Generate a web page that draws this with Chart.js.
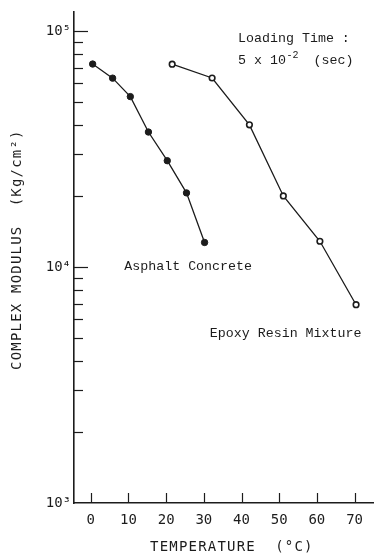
<!DOCTYPE html>
<html>
<head>
<meta charset="utf-8">
<script src="https://cdn.jsdelivr.net/npm/chart.js@4.4.1/dist/chart.umd.min.js"></script>
<style>
  html, body { margin: 0; padding: 0; background: #fff; }
  canvas { display: block; }
</style>
</head>
<body>
<canvas id="modulusChart" width="379" height="553"></canvas>
<script>
// complex modulus vs temperature, two mixtures
const ASPHALT_TEMP = [0.5, 5.8, 10.5, 15.3, 20.3, 25.4, 30.2];
const ASPHALT_MODULUS = [72400, 63100, 52700, 37300, 28200, 20600, 12700];
const EPOXY_TEMP = [21.6, 32.2, 42.1, 51.1, 60.8, 70.4];
const EPOXY_MODULUS = [72300, 63200, 40000, 20000, 12850, 6920];

const X_TICKS = [0, 10, 20, 30, 40, 50, 60, 70];
const Y_TICKS = [1000, 2000, 3000, 4000, 5000, 6000, 7000, 8000, 9000,
                 10000, 20000, 30000, 40000, 50000, 60000, 70000, 80000, 90000,
                 100000];
const Y_LABELS = { 1000: '10³', 10000: '10⁴', 100000: '10⁵' };

const INK = '#1c1c1c';
const SANS = '"DejaVu Sans Mono", monospace';
const TYPE = '"Liberation Mono", "Courier New", monospace';

function toPoints(xs, ys) {
  return xs.map((x, i) => ({ x, y: ys[i] }));
}

// inward ticks, axis titles and the typed notes
const axisExtras = {
  id: 'axisExtras',
  afterDraw(chart) {
    const ctx = chart.ctx;
    const xs = chart.scales.x, ys = chart.scales.y;
    const area = chart.chartArea;
    ctx.save();
    ctx.strokeStyle = INK;
    ctx.lineWidth = 1.2;
    Y_TICKS.forEach(v => {
      if (v === 1000) return;
      const py = Math.round(ys.getPixelForValue(v)) + 0.5;
      const len = Y_LABELS[v] ? 14 : 9;
      ctx.beginPath();
      ctx.moveTo(area.left, py);
      ctx.lineTo(area.left + len, py);
      ctx.stroke();
    });
    X_TICKS.forEach(v => {
      const px = Math.round(xs.getPixelForValue(v)) + 0.5;
      ctx.beginPath();
      ctx.moveTo(px, area.bottom);
      ctx.lineTo(px, area.bottom - 10);
      ctx.stroke();
    });

    ctx.fillStyle = INK;
    ctx.textBaseline = 'middle';
    ctx.textAlign = 'left';

    // axis titles
    ctx.font = '14px ' + SANS;
    ctx.letterSpacing = '1.2px';
    ctx.fillText('TEMPERATURE  (°C)', 150, 547);
    ctx.save();
    ctx.translate(17, 370);
    ctx.rotate(-Math.PI / 2);
    ctx.fillText('COMPLEX MODULUS  (Kg/cm²)', 0, 0);
    ctx.restore();
    ctx.letterSpacing = '0px';

    // notes
    ctx.font = '13.3px ' + TYPE;
    let px = xs.getPixelForValue(39.1);
    ctx.fillText('Loading Time :', px, ys.getPixelForValue(93100));
    const py = ys.getPixelForValue(75300);
    ctx.fillText('5 x 10', px, py);
    px += ctx.measureText('5 x 10').width;
    ctx.font = '10px ' + TYPE;
    ctx.fillText('-2', px + 0.5, py - 5);
    ctx.font = '13.3px ' + TYPE;
    ctx.fillText('(sec)', xs.getPixelForValue(59.1), py);

    ctx.fillText('Asphalt Concrete', xs.getPixelForValue(8.9), ys.getPixelForValue(10000));
    ctx.fillText('Epoxy Resin Mixture', xs.getPixelForValue(31.6), ys.getPixelForValue(5240));
    ctx.restore();
  }
};

new Chart(document.getElementById('modulusChart'), {
  type: 'line',
  data: {
    datasets: [
      {
        label: 'Asphalt Concrete',
        data: toPoints(ASPHALT_TEMP, ASPHALT_MODULUS),
        borderColor: INK,
        borderWidth: 1.3,
        tension: 0,
        pointRadius: 3.2,
        pointBackgroundColor: INK,
        pointBorderColor: INK,
        pointBorderWidth: 1
      },
      {
        label: 'Epoxy Resin Mixture',
        data: toPoints(EPOXY_TEMP, EPOXY_MODULUS),
        borderColor: INK,
        borderWidth: 1.3,
        tension: 0,
        pointRadius: 2.8,
        pointBackgroundColor: '#fff',
        pointBorderColor: INK,
        pointBorderWidth: 1.6
      }
    ]
  },
  options: {
    responsive: false,
    animation: false,
    layout: { padding: { top: 8, right: 2, left: 0, bottom: 0 } },
    plugins: { legend: { display: false }, tooltip: { enabled: false } },
    scales: {
      x: {
        type: 'linear',
        min: -4.45,
        max: 75,
        afterBuildTicks: s => { s.ticks = X_TICKS.map(v => ({ value: v })); },
        afterFit: s => { s.height = 50; },
        grid: { drawOnChartArea: false, drawTicks: false },
        border: { color: INK, width: 1.6 },
        ticks: {
          autoSkip: false,
          maxRotation: 0,
          padding: 9,
          color: INK,
          font: { family: SANS, size: 14 }
        }
      },
      y: {
        type: 'logarithmic',
        min: 1000,
        max: 121000,
        afterBuildTicks: s => { s.ticks = Y_TICKS.map(v => ({ value: v })); },
        afterFit: s => { s.width = 74; },
        grid: { drawOnChartArea: false, drawTicks: false },
        border: { color: INK, width: 1.6 },
        ticks: {
          autoSkip: false,
          padding: 3,
          color: INK,
          font: { family: SANS, size: 14 },
          callback: v => Y_LABELS[v] || ''
        }
      }
    }
  },
  plugins: [axisExtras]
});
</script>
</body>
</html>
